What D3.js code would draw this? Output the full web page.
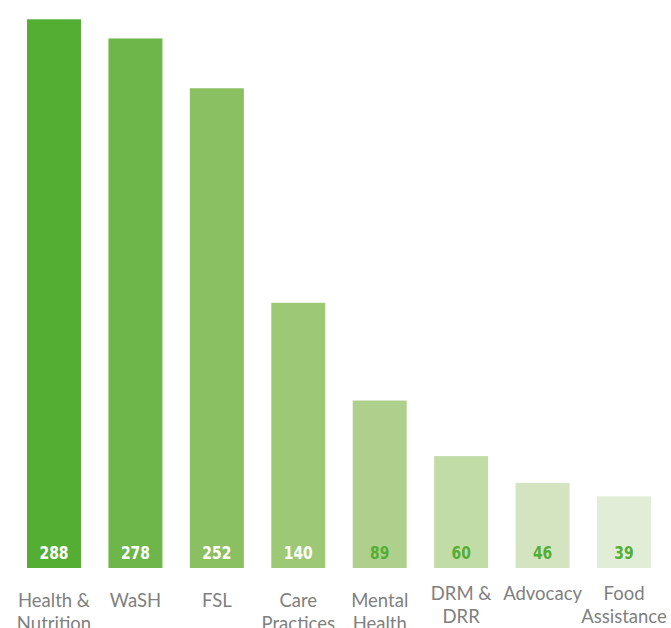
<!DOCTYPE html>
<html><head><meta charset="utf-8">
<script src="https://cdn.jsdelivr.net/npm/d3@7/dist/d3.min.js"></script>
<style>body{margin:0;background:#fff}</style>
</head><body>
<svg id="chart" width="671" height="628"></svg>
<script>
const categories = ["Health & Nutrition","WaSH","FSL","Care Practices","Mental Health","DRM & DRR","Advocacy","Food Assistance"];
const labelLines = [["Health &","Nutrition"],["WaSH"],["FSL"],["Care","Practices"],["Mental","Health"],["DRM &","DRR"],["Advocacy"],["Food","Assistance"]];
const values = [288,278,252,140,89,60,46,39];
const colors = ["#55ae34","#6fb64a","#8abf62","#9dc977","#afd08c","#c2dca8","#d4e4c0","#e2edd7"];
const labelColors = ["#ffffff","#ffffff","#ffffff","#ffffff","#55ae34","#55ae34","#55ae34","#55ae34"];

const svg = d3.select("#chart");
const x = d3.scaleBand().domain(categories).range([27, 651]).paddingInner(0.337).paddingOuter(0);
const y = d3.scaleLinear().domain([0, 288]).range([571, 19.3]);
const baseGap = 3;

svg.selectAll("rect.bar").data(values).join("rect")
  .attr("class","bar")
  .attr("x",(d,i)=>x(categories[i]))
  .attr("width",x.bandwidth())
  .attr("y",d=>y(d))
  .attr("height",d=>y(0)-baseGap-y(d))
  .attr("fill",(d,i)=>colors[i]);

svg.selectAll("text.val").data(values).join("text")
  .attr("class","val")
  .attr("transform",(d,i)=>`translate(${x(categories[i])+x.bandwidth()/2},${y(0)-baseGap-9.5}) scale(0.86,1)`)
  .attr("text-anchor","middle")
  .attr("font-family","'DejaVu Sans Condensed','DejaVu Sans',sans-serif")
  .attr("font-stretch","condensed")
  .attr("font-weight","bold")
  .attr("font-size","18px")
  .attr("fill",(d,i)=>labelColors[i])
  .text(d=>d);

const lab = svg.selectAll("text.cat").data(categories).join("text")
  .attr("class","cat")
  .attr("text-anchor","middle")
  .attr("font-family","Lato, sans-serif")
  .attr("font-size","18.5px")
  .attr("fill","#808080")
  .attr("transform",(d,i)=>`translate(${x(d)+x.bandwidth()/2},${i>=5?600:607})`);
lab.each(function(d,i){
  d3.select(this).selectAll("tspan").data(labelLines[i]).join("tspan")
    .attr("x",0).attr("dy",(t,j)=>j===0?0:23).text(t=>t);
});
</script>
</body></html>
